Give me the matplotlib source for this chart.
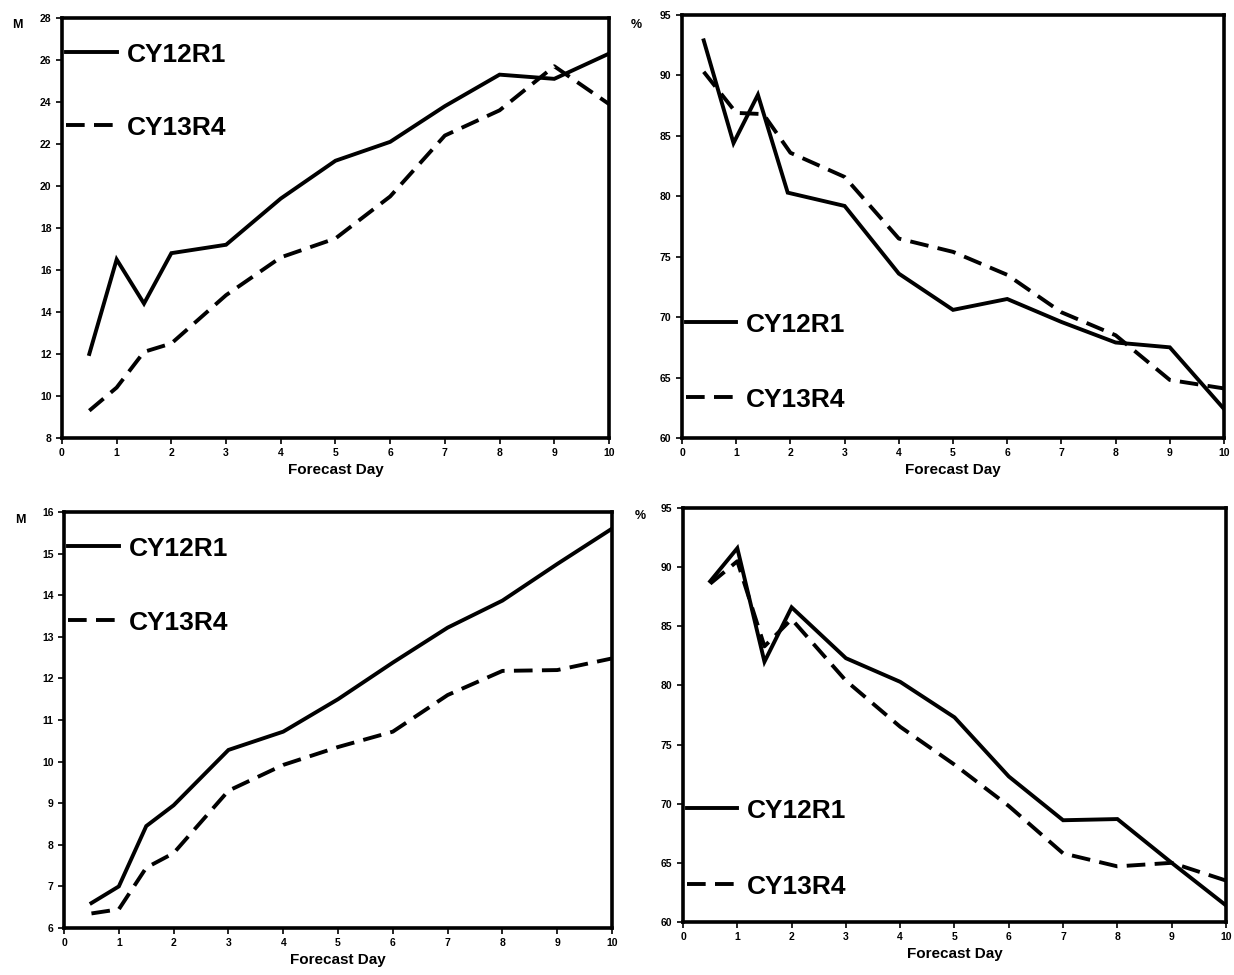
import matplotlib

matplotlib.use("Agg")

import matplotlib.pyplot as plt

FONT = ["Liberation Sans Narrow", "Liberation Sans", "DejaVu Sans"]
plt.rcParams["font.family"] = FONT
plt.rcParams["font.weight"] = "bold"

# forecast days
DAYS = [0.5, 1, 1.5, 2, 3, 4, 5, 6, 7, 8, 9, 10]
DAYS_B = [0.4, 0.95, 1.4, 1.95, 3, 4, 5, 6, 7, 8, 9, 10]
DAYS_B_DASH = [0.4, 1, 1.5, 2, 3, 4, 5, 6, 7, 8, 9, 10]

# top left: error (M)
TL_CY12R1 = [12.0, 16.5, 14.4, 16.8, 17.2, 19.4, 21.2, 22.1, 23.8, 25.3, 25.1, 26.3]
TL_CY13R4 = [9.3, 10.4, 12.1, 12.5, 14.8, 16.6, 17.5, 19.5, 22.4, 23.6, 25.7, 23.9]

# top right: score (%)
TR_CY12R1 = [92.9, 84.4, 88.4, 80.3, 79.2, 73.6, 70.6, 71.5, 69.6, 67.9, 67.5, 62.4]
TR_CY13R4 = [90.3, 86.9, 86.8, 83.6, 81.6, 76.5, 75.4, 73.5, 70.4, 68.5, 64.8, 64.1]

# bottom left: error (M)
BL_CY12R1 = [6.6, 7.0, 8.45, 8.95, 10.28, 10.72, 11.5, 12.38, 13.22, 13.87, 14.75, 15.6]
BL_CY13R4 = [6.35, 6.45, 7.45, 7.8, 9.3, 9.92, 10.35, 10.72, 11.6, 12.18, 12.2, 12.48]

# bottom right: score (%)
BR_CY12R1 = [88.8, 91.6, 82.0, 86.6, 82.3, 80.3, 77.3, 72.3, 68.6, 68.7, 65.0, 61.4]
BR_CY13R4 = [88.6, 90.5, 83.3, 85.6, 80.4, 76.5, 73.3, 69.8, 65.8, 64.7, 65.0, 63.5]

LABELS = ["CY12R1", "CY13R4"]
DASH = (0, (4.8, 2.4))


def draw_panel(fig, rect, x_solid, y_solid, x_dash, y_dash, ylim, yticks,
               unit, unit_xy, legend_y):
    ax = fig.add_axes(rect)
    ax.plot(x_solid, y_solid, color="black", lw=2.8, solid_joinstyle="miter")
    ax.plot(x_dash, y_dash, color="black", lw=2.8, linestyle=DASH)
    ax.set_xlim(0, 10)
    ax.set_ylim(*ylim)
    ax.set_xticks(range(11))
    ax.set_yticks(yticks)
    ax.tick_params(labelsize=7.5, length=4, width=1.2, direction="out")
    for lab in ax.get_xticklabels() + ax.get_yticklabels():
        lab.set_fontweight("bold")
    for spine in ax.spines.values():
        spine.set_linewidth(2.6)
    ax.set_xlabel("Forecast Day", fontsize=11, fontweight="bold", labelpad=3,
                  family=["Liberation Sans", "DejaVu Sans"])
    fig.text(*unit_xy, unit, fontsize=9, fontweight="bold",
             family=["Liberation Sans", "DejaVu Sans"], ha="left", va="top")

    # hand-drawn key inside the axes
    styles = ["-", DASH]
    for label, ls, yy in zip(LABELS, styles, legend_y):
        ax.plot([0.008, 0.100], [yy, yy], transform=ax.transAxes,
                color="black", lw=2.8, linestyle=ls, clip_on=False)
        ax.text(0.118, yy - 0.008, label, transform=ax.transAxes,
                fontsize=19, fontweight="bold", va="center", ha="left")
    return ax


fig = plt.figure(figsize=(12.34, 9.75), dpi=100)

draw_panel(fig, [0.0502, 0.5508, 0.4433, 0.4308],
           DAYS, TL_CY12R1, DAYS, TL_CY13R4,
           (8, 28), range(8, 29, 2), "M", (0.010, 0.981), (0.919, 0.745))

draw_panel(fig, [0.5527, 0.5508, 0.4392, 0.4338],
           DAYS_B, TR_CY12R1, DAYS_B_DASH, TR_CY13R4,
           (60, 95), range(60, 96, 5), "%", (0.511, 0.981), (0.274, 0.097))

draw_panel(fig, [0.0519, 0.0482, 0.4441, 0.4267],
           DAYS, BL_CY12R1, DAYS, BL_CY13R4,
           (6, 16), range(6, 17), "M", (0.012, 0.473), (0.918, 0.740))

draw_panel(fig, [0.5535, 0.0544, 0.4400, 0.4246],
           DAYS, BR_CY12R1, DAYS, BR_CY13R4,
           (60, 95), range(60, 96, 5), "%", (0.514, 0.477), (0.275, 0.092))

fig.savefig("out.png", dpi=100, facecolor="white")
